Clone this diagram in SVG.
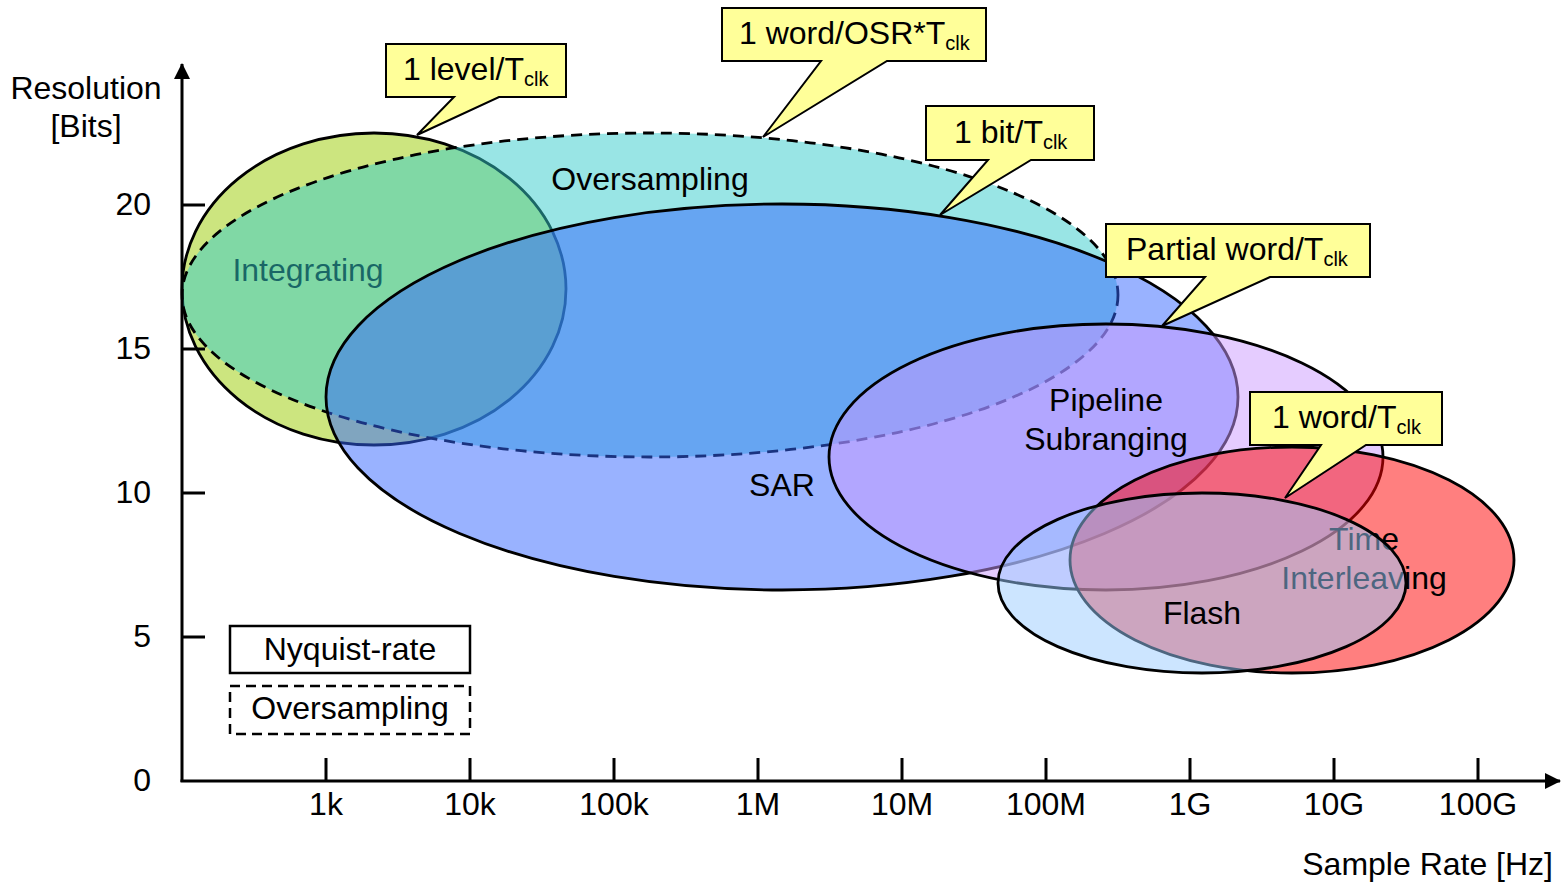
<svg xmlns="http://www.w3.org/2000/svg" width="1562" height="886" viewBox="0 0 1562 886">
<style>
text{font-family:"Liberation Sans",Arial,sans-serif;font-size:32px;fill:#000}
.c{text-anchor:middle}
.e{text-anchor:end}
.sub{font-size:20px}
.ell{stroke:#000;stroke-width:2.8;fill-opacity:0.5}
.dash{stroke-dasharray:11 7}
.call{fill:#ffff99;stroke:#000;stroke-width:2}
.ax{stroke:#000;stroke-width:3;fill:none}
</style>
<defs>
<marker id="arr" viewBox="0 0 16 16" refX="15" refY="8" markerWidth="16" markerHeight="16" markerUnits="userSpaceOnUse" orient="auto">
<path d="M0,0 L16,8 L0,16 Z" fill="#000"/>
</marker>
</defs>
<rect width="1562" height="886" fill="#fff"/>

<g id="integrating">
<ellipse class="ell" cx="374" cy="289" rx="192" ry="156" fill="#99cc00"/>
<text x="308" y="281" class="c">Integrating</text>
</g>
<g id="oversampling">
<ellipse class="ell dash" cx="650" cy="295" rx="468" ry="162" fill="#33cccc"/>
<text x="650" y="190" class="c">Oversampling</text>
</g>
<g id="sar">
<ellipse class="ell" cx="782" cy="397" rx="456" ry="193" fill="#3366ff"/>
<text x="782" y="496" class="c">SAR</text>
</g>
<g id="pipeline">
<ellipse class="ell" cx="1106" cy="457" rx="277" ry="133" fill="#cc99ff"/>
<text x="1106" y="411" class="c">Pipeline</text>
<text x="1106" y="450" class="c">Subranging</text>
</g>
<g id="time-interleaving">
<ellipse class="ell" cx="1292" cy="560" rx="222" ry="113" fill="#ff0000"/>
<text x="1364" y="550" class="c">Time</text>
<text x="1364" y="589" class="c">Interleaving</text>
</g>
<g id="flash">
<ellipse class="ell" cx="1202" cy="583" rx="204" ry="90" fill="#99ccff"/>
<text x="1202" y="624" class="c">Flash</text>
</g>

<g id="axes">
<line class="ax" x1="182" y1="782" x2="182" y2="64" marker-end="url(#arr)"/>
<line class="ax" x1="180.5" y1="781" x2="1560" y2="781" marker-end="url(#arr)"/>
<path class="ax" d="M182,205 H205 M182,349 H205 M182,493 H205 M182,637 H205 M326,781 V758 M470,781 V758 M614,781 V758 M758,781 V758 M902,781 V758 M1046,781 V758 M1190,781 V758 M1334,781 V758 M1478,781 V758"/>
<text x="151" y="215" class="e">20</text>
<text x="151" y="359" class="e">15</text>
<text x="151" y="503" class="e">10</text>
<text x="151" y="647" class="e">5</text>
<text x="151" y="791" class="e">0</text>
<text x="326" y="815" class="c">1k</text>
<text x="470" y="815" class="c">10k</text>
<text x="614" y="815" class="c">100k</text>
<text x="758" y="815" class="c">1M</text>
<text x="902" y="815" class="c">10M</text>
<text x="1046" y="815" class="c">100M</text>
<text x="1190" y="815" class="c">1G</text>
<text x="1334" y="815" class="c">10G</text>
<text x="1478" y="815" class="c">100G</text>
<text x="86" y="99" class="c">Resolution</text>
<text x="86" y="137" class="c">[Bits]</text>
<text x="1553" y="875" class="e">Sample Rate [Hz]</text>
</g>

<g id="legend">
<rect x="230" y="626" width="240" height="47" fill="none" stroke="#000" stroke-width="2.5"/>
<text x="350" y="660" class="c">Nyquist-rate</text>
<rect x="230" y="686" width="240" height="48" fill="none" stroke="#000" stroke-width="2.5" stroke-dasharray="10 6"/>
<text x="350" y="719" class="c">Oversampling</text>
</g>

<g id="callout-level">
<path class="call" d="M386,44 H566 V97 H499 L417,135 L454,97 H386 Z"/>
<text x="403" y="80">1 level/T<tspan class="sub" dy="6">clk</tspan></text>
</g>
<g id="callout-osr">
<path class="call" d="M722,8 H986 V61 H887 L763,137 L821,61 H722 Z"/>
<text x="739" y="44">1 word/OSR*T<tspan class="sub" dy="6">clk</tspan></text>
</g>
<g id="callout-bit">
<path class="call" d="M926,106 H1094 V160 H1031 L940,215 L988,160 H926 Z"/>
<text x="954" y="143">1 bit/T<tspan class="sub" dy="6">clk</tspan></text>
</g>
<g id="callout-partial">
<path class="call" d="M1106,224 H1370 V277 H1270 L1162,326 L1205,277 H1106 Z"/>
<text x="1126" y="260">Partial word/T<tspan class="sub" dy="6">clk</tspan></text>
</g>
<g id="callout-word">
<path class="call" d="M1250,392 H1442 V445 H1366 L1285,498 L1321,445 H1250 Z"/>
<text x="1272" y="428">1 word/T<tspan class="sub" dy="6">clk</tspan></text>
</g>
</svg>
